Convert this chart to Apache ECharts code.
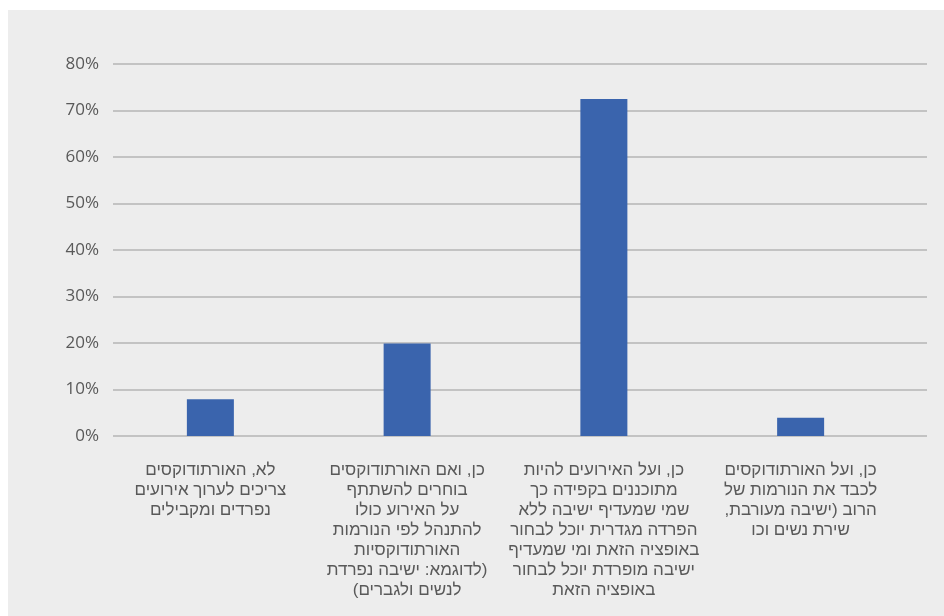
<!DOCTYPE html>
<html>
<head>
<meta charset="utf-8">
<script src="https://cdn.jsdelivr.net/npm/echarts@6/dist/echarts.min.js"></script>
<style>
  html, body { margin: 0; padding: 0; background: #ffffff; }
  #chart { position: absolute; left: 8px; top: 10px; width: 936px; height: 606px; background: #ededed; }
</style>
</head>
<body>
<div id="chart"></div>
<script>
const categories = [
  "לא, האורתודוקסים\nצריכים לערוך אירועים\nנפרדים ומקבילים",
  "כן, ואם האורתודוקסים\nבוחרים להשתתף\nעל האירוע כולו\nלהתנהל לפי הנורמות\nהאורתודוקסיות\n(לדוגמא: ישיבה נפרדת\nלנשים ולגברים)",
  "כן, ועל האירועים להיות\nמתוכננים בקפידה כך\nשמי שמעדיף ישיבה ללא\nהפרדה מגדרית יוכל לבחור\nבאופציה הזאת ומי שמעדיף\nישיבה מופרדת יוכל לבחור\nבאופציה הזאת",
  "כן, ועל האורתודוקסים\nלכבד את הנורמות של\nהרוב (ישיבה מעורבת,\nשירת נשים וכו"
];
const values = [0.079, 0.199, 0.725, 0.039];
const yTicks = [0, 0.1, 0.2, 0.3, 0.4, 0.5, 0.6, 0.7, 0.8];

const FONT = '"Liberation Sans", "Open Sans", "DejaVu Sans", sans-serif';
const RLI = '\u2067', PDI = '\u2069';

const chart = echarts.init(document.getElementById('chart'), null, { renderer: 'canvas' });
chart.setOption({
  backgroundColor: '#ededed',
  animation: false,
  grid: [
    { left: 104, right: 45, top: 54, bottom: 180, containLabel: false },
    { left: 105, right: 17, top: 54, bottom: 180, containLabel: false }
  ],
  xAxis: [
    {
      type: 'category',
      gridIndex: 0,
      data: categories,
      axisTick: { show: false },
      axisLine: { show: false },
      axisLabel: {
        interval: 0,
        margin: 24,
        color: '#595959',
        fontSize: 17,
        lineHeight: 20,
        fontFamily: FONT,
        align: 'center',
        formatter: v => v.split('\n').map(s => RLI + s + PDI).join('\n')
      }
    },
    {
      type: 'category',
      gridIndex: 1,
      data: categories,
      show: false
    }
  ],
  yAxis: [
    {
      type: 'value',
      gridIndex: 0,
      min: yTicks[0],
      max: yTicks[yTicks.length - 1],
      interval: 0.1,
      show: false,
      splitLine: { show: false }
    },
    {
      type: 'value',
      gridIndex: 1,
      min: yTicks[0],
      max: yTicks[yTicks.length - 1],
      interval: 0.1,
      axisLine: { show: false },
      axisTick: { show: false },
      splitLine: { lineStyle: { color: '#b4b4b4', width: 1.5 } },
      axisLabel: {
        margin: 14,
        color: '#595959',
        fontSize: 17,
        fontFamily: '"Open Sans", "DejaVu Sans", sans-serif',
        formatter: v => Math.round(v * 100) + '%'
      }
    }
  ],
  series: [{
    type: 'bar',
    xAxisIndex: 0,
    yAxisIndex: 0,
    data: values,
    barWidth: 47,
    itemStyle: { color: '#3a64ad' },
    z: 3
  }]
});
</script>
</body>
</html>
